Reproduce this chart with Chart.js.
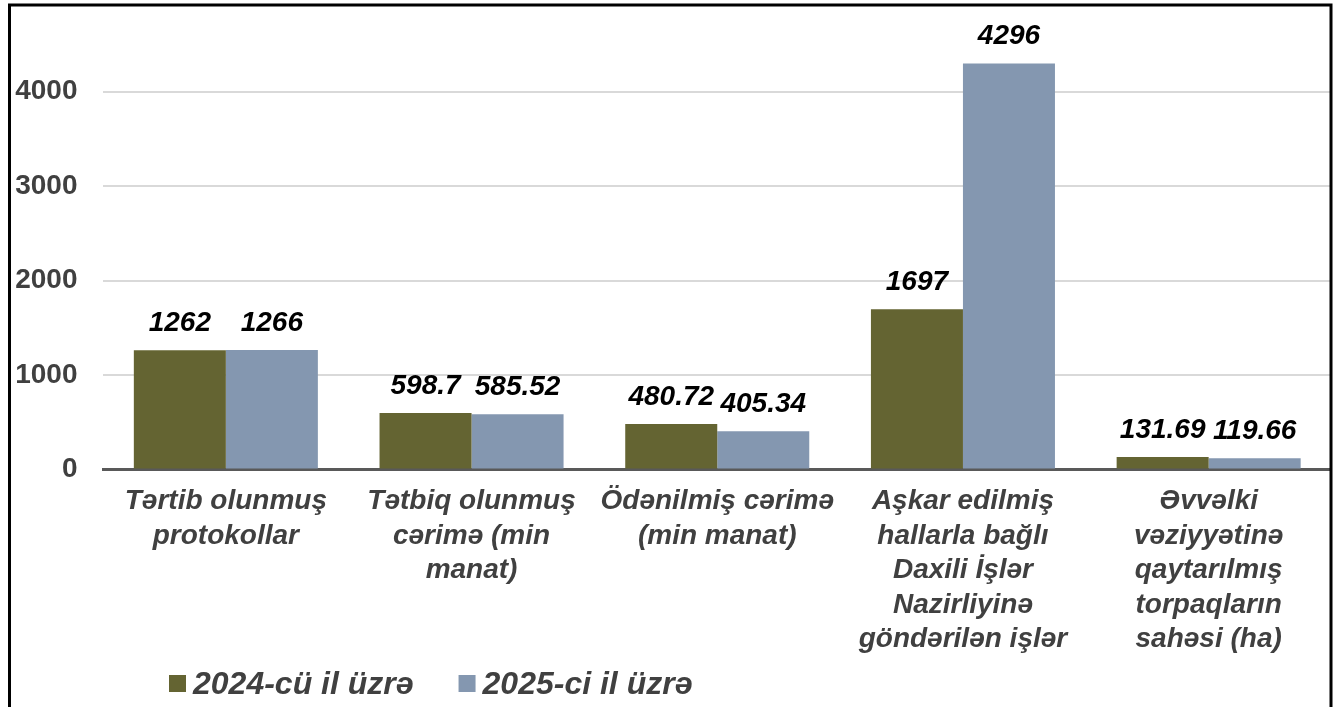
<!DOCTYPE html>
<html>
<head>
<meta charset="utf-8">
<script src="https://cdn.jsdelivr.net/npm/chart.js@4/dist/chart.umd.min.js"></script>
<style>
  html, body { margin: 0; padding: 0; background: #ffffff; }
  #wrap { width: 1340px; height: 707px; position: relative; }
  canvas { display: block; }
</style>
</head>
<body>
<div id="wrap"><canvas id="c" width="1340" height="707"></canvas></div>
<script>
// ---- data ----
const categories = [
  ["Tərtib olunmuş", "protokollar"],
  ["Tətbiq olunmuş", "cərimə (min", "manat)"],
  ["Ödənilmiş cərimə", "(min manat)"],
  ["Aşkar edilmiş", "hallarla bağlı", "Daxili İşlər", "Nazirliyinə", "göndərilən işlər"],
  ["Əvvəlki", "vəziyyətinə", "qaytarılmış", "torpaqların", "sahəsi (ha)"]
];
const seriesNames = ["2024-cü il üzrə", "2025-ci il üzrə"];
const values2024 = [1262, 598.7, 480.72, 1697, 131.69];
const values2025 = [1266, 585.52, 405.34, 4296, 119.66];
const yTickValues = [0, 1000, 2000, 3000, 4000];

const colors = ["#646432", "#8497B0"];
const FONT = "'Liberation Sans', Arial, sans-serif";

const frame = {
  id: 'frame',
  afterDraw(chart) {
    const ctx = chart.ctx;
    ctx.save();
    ctx.strokeStyle = '#000000';
    ctx.lineWidth = 3;
    ctx.beginPath();
    ctx.moveTo(9.5, 707);
    ctx.lineTo(9.5, 5);
    ctx.lineTo(1331, 5);
    ctx.lineTo(1331, 707);
    ctx.stroke();
    ctx.restore();
  }
};

const valueLabels = {
  id: 'valueLabels',
  afterDatasetsDraw(chart) {
    const ctx = chart.ctx;
    ctx.save();
    ctx.font = 'italic bold 28px ' + FONT;
    ctx.fillStyle = '#000000';
    ctx.textAlign = 'center';
    ctx.textBaseline = 'middle';
    chart.data.datasets.forEach((ds, i) => {
      const meta = chart.getDatasetMeta(i);
      meta.data.forEach((el, j) => {
        ctx.fillText(String(ds.data[j]), el.x, el.y - 27);
      });
    });
    ctx.restore();
  }
};

const customLegend = {
  id: 'customLegend',
  afterDraw(chart) {
    const ctx = chart.ctx;
    ctx.save();
    ctx.font = 'italic bold 32px ' + FONT;
    ctx.textBaseline = 'alphabetic';
    ctx.textAlign = 'left';
    let x = 169;
    chart.data.datasets.forEach((ds) => {
      ctx.fillStyle = ds.backgroundColor;
      ctx.fillRect(x, 675, 17, 17);
      ctx.fillStyle = '#404040';
      const tx = x + 24;
      ctx.fillText(ds.label, tx, 694);
      x = tx + ctx.measureText(ds.label).width + 45;
    });
    ctx.restore();
  }
};

new Chart(document.getElementById('c'), {
  type: 'bar',
  data: {
    labels: categories,
    datasets: [
      { label: seriesNames[0], data: values2024, backgroundColor: colors[0], borderWidth: 0 },
      { label: seriesNames[1], data: values2025, backgroundColor: colors[1], borderWidth: 0 }
    ]
  },
  options: {
    responsive: false,
    devicePixelRatio: 1,
    animation: false,
    layout: { padding: { left: 13, right: 8.5, top: 16, bottom: 47.5 } },
    datasets: { bar: { barPercentage: 1, categoryPercentage: 0.749 } },
    plugins: {
      legend: { display: false },
      tooltip: { enabled: false }
    },
    scales: {
      x: {
        grid: { display: false, drawTicks: false },
        border: { display: true, color: '#595959', width: 3 },
        ticks: {
          autoSkip: false, maxRotation: 0, minRotation: 0, padding: 15,
          color: '#404040',
          font: { family: FONT, size: 28, weight: 'bold', style: 'italic', lineHeight: 1.23 }
        },
        afterFit(scale) { scale.height = 190; }
      },
      y: {
        min: 0, max: 4800,
        afterBuildTicks(scale) {
          scale.ticks = yTickValues.map(v => ({ value: v }));
        },
        grid: { color: '#d9d9d9', lineWidth: 2, drawTicks: false },
        border: { display: false },
        ticks: {
          padding: 25.5,
          color: '#404040',
          font: { family: FONT, size: 28, weight: 'bold' },
          callback: (v) => String(v)
        },
        afterFit(scale) {
          scale.width = 90;
          scale.paddingTop = 0;
          scale.paddingBottom = 0;
        }
      }
    }
  },
  plugins: [valueLabels, customLegend, frame]
});
</script>
</body>
</html>
